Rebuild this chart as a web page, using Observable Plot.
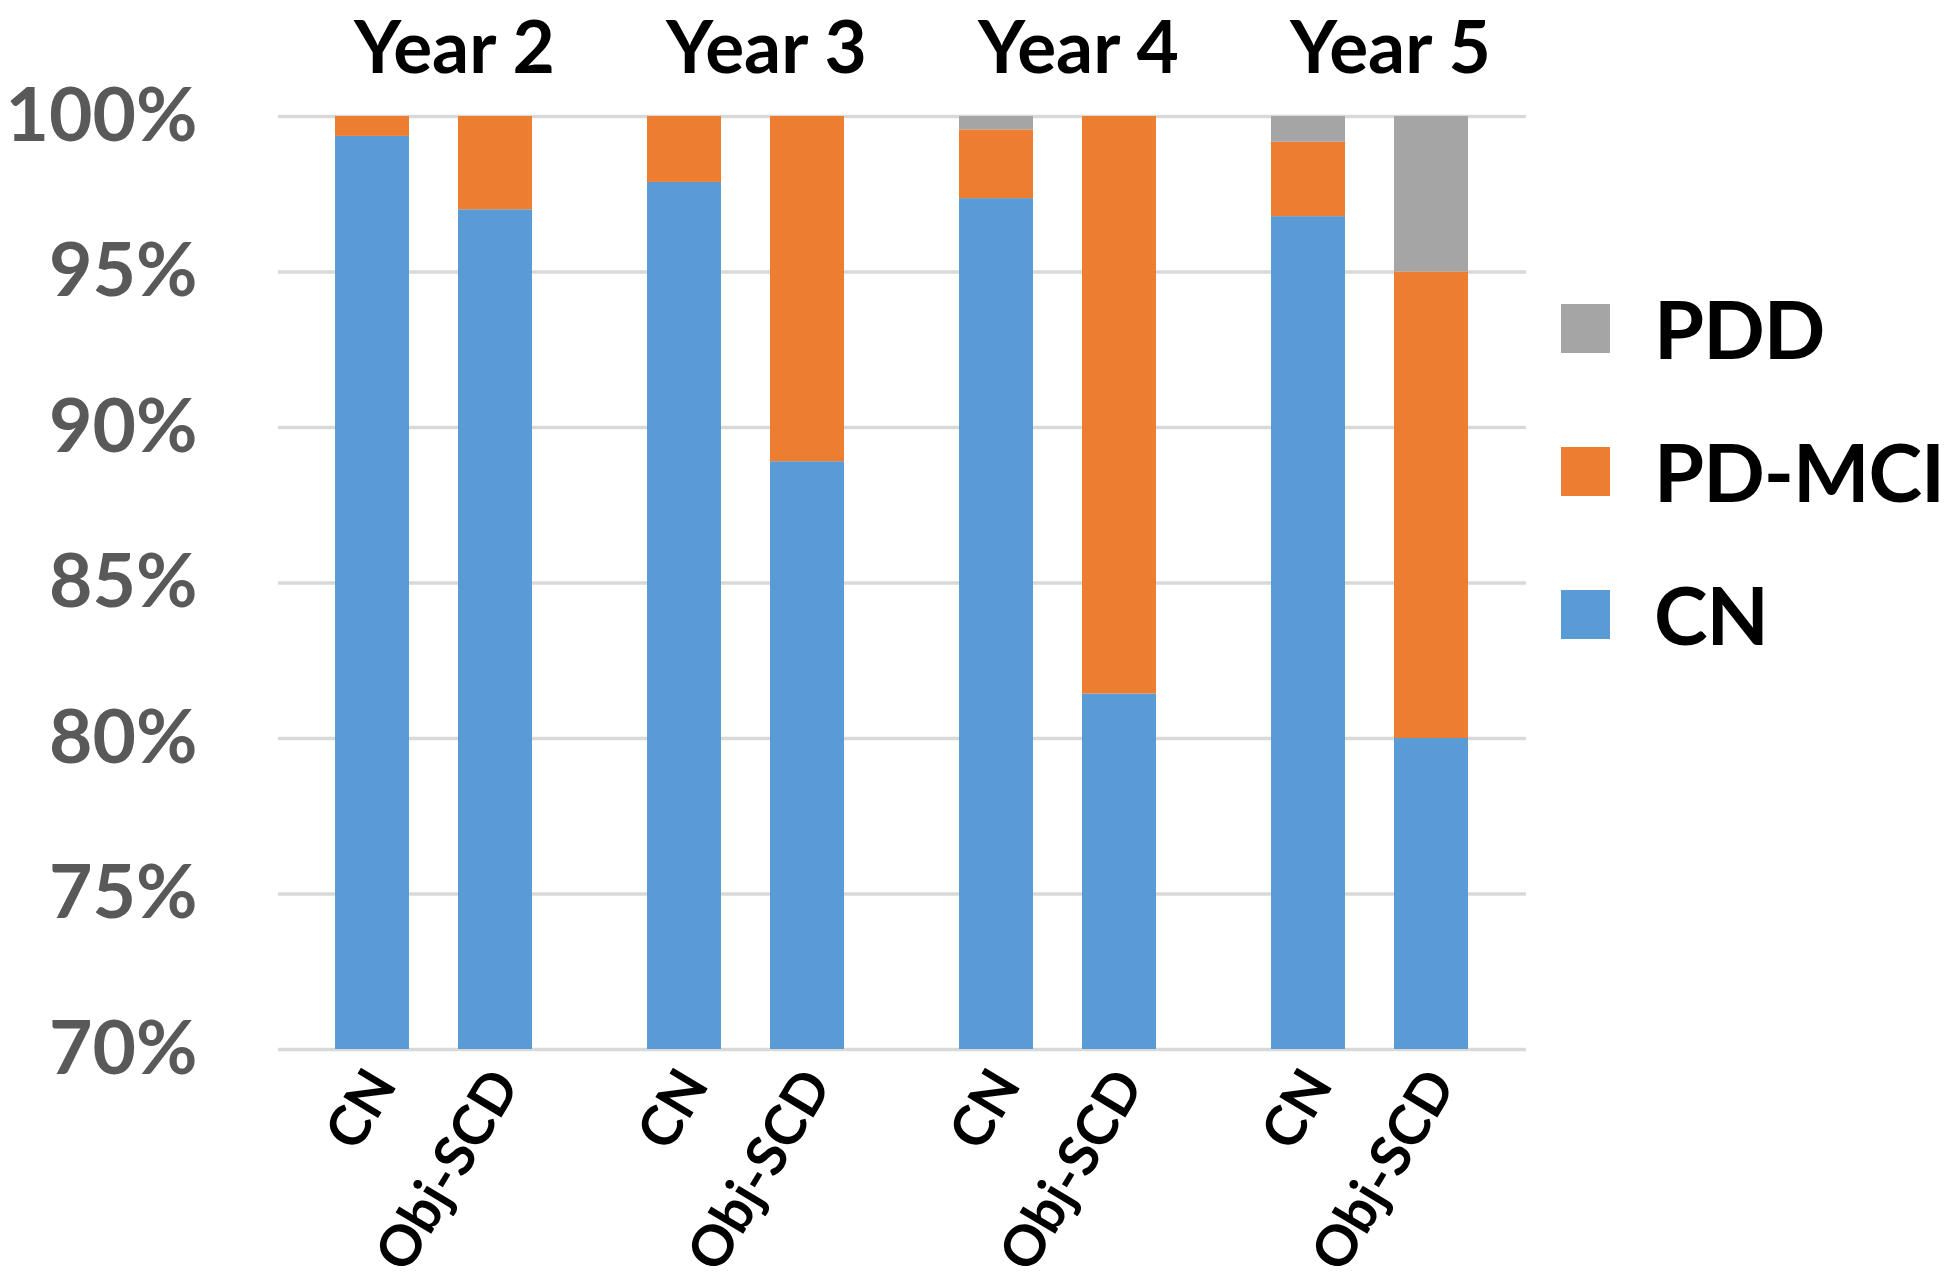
<!DOCTYPE html>
<html>
<head>
<meta charset="utf-8">
<script src="https://cdn.jsdelivr.net/npm/d3@7"></script>
<script src="https://cdn.jsdelivr.net/npm/@observablehq/plot@0.6"></script>
<style>
  html, body { margin: 0; padding: 0; background: #ffffff; }
  #wrap { position: relative; width: 1950px; height: 1288px; overflow: hidden; }
  #legend { position: absolute; left: 1561px; top: 0; font-family: Lato, "Open Sans", sans-serif; font-weight: 700; color: #000; }
  .item { position: absolute; left: 0; height: 100px; display: flex; align-items: center; white-space: nowrap; }
  .sw { width: 49px; height: 49px; margin-right: 44px; flex: none; }
  .lab { font-size: 84px; line-height: 100px; letter-spacing: -1px; }
</style>
</head>
<body>
<div id="wrap"></div>
<script>
// ---- data ----
const years = ["Year 2", "Year 3", "Year 4", "Year 5"];
const groups = ["CN", "Obj-SCD"];
const statuses = ["CN", "PD-MCI", "PDD"];            // stacking order, bottom to top
const statusColors = ["#5B9BD5", "#ED7D31", "#A5A5A5"];
// values per year, [CN group, Obj-SCD group]
const cnShare    = [[99.36, 97.0], [97.88, 88.9], [97.36, 81.43], [96.78, 80.0]];
const pdmciShare = [[0.64, 3.0],   [2.12, 11.1],  [2.21, 18.57],  [2.39, 15.0]];
const pddShare   = [[0, 0],        [0, 0],        [0.43, 0],      [0.83, 5.0]];
const yTicks = [70, 75, 80, 85, 90, 95, 100];

const FONT = 'Lato, "Open Sans", sans-serif';

const shares = {"CN": cnShare, "PD-MCI": pdmciShare, "PDD": pddShare};
const rows = [];
years.forEach((yr, i) => groups.forEach((g, j) => statuses.forEach(s => {
  rows.push({year: yr, group: g, status: s, value: shares[s][i][j]});
})));

const chart = Plot.plot({
  width: 1950,
  height: 1288,
  marginLeft: 276,
  marginRight: 423,
  marginTop: 116,
  marginBottom: 239,
  style: {fontFamily: FONT, background: "#ffffff", overflow: "visible"},
  fx: {domain: years, padding: 0},
  x: {domain: groups, paddingInner: 0.395, paddingOuter: 0.46},
  y: {domain: [70, 100]},
  color: {domain: statuses, range: statusColors},
  marks: [
    Plot.ruleY(yTicks, {stroke: "#D9D9D9", strokeWidth: 3.5}),
    Plot.barY(rows, {fx: "year", x: "group", y: "value", fill: "status", order: statuses, clip: true}),
    Plot.axisY({ticks: yTicks, tickFormat: d => d + "%", tickSize: 0, tickPadding: 81,
                fontSize: 75, fontWeight: "bold", color: "#595959", label: null}),
    Plot.axisX({tickRotate: -59, tickSize: 0, tickPadding: 26, fontSize: 56, fontWeight: "bold",
                color: "#000000", label: null, dx: 10}),
    Plot.axisFx({anchor: "top", tickSize: 0, tickPadding: 44, fontSize: 73, fontWeight: "bold",
                 color: "#000000", label: null, dx: 20})
  ]
});
document.getElementById("wrap").appendChild(chart);

// ---- legend (right side) ----
const legend = document.createElement("div");
legend.id = "legend";
const legendOrder = statuses.slice().reverse();
const labs = [];
legendOrder.forEach((s, i) => {
  const item = document.createElement("div");
  item.className = "item";
  item.style.top = (328 + i * 143 - 50) + "px";
  const sw = document.createElement("div");
  sw.className = "sw";
  sw.style.background = statusColors[statuses.indexOf(s)];
  const lab = document.createElement("span");
  lab.className = "lab";
  lab.textContent = s;
  labs.push(lab);
  item.appendChild(sw);
  item.appendChild(lab);
  legend.appendChild(item);
});
document.getElementById("wrap").appendChild(legend);
// fit the widest legend label into the space left of the page edge
const maxW = Math.max(...labs.map(l => l.getBoundingClientRect().width));
const room = 1946 - 1654;
if (maxW > room) {
  const fs = Math.floor(84 * room / maxW);
  labs.forEach(l => l.style.fontSize = fs + "px");
}
</script>
</body>
</html>
